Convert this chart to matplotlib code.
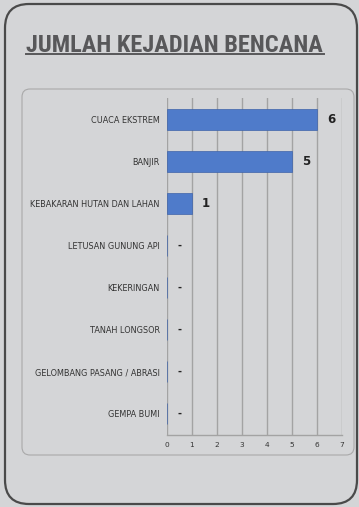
import matplotlib
matplotlib.use('Agg')
import matplotlib.pyplot as plt
from matplotlib.patches import FancyBboxPatch

# data
categories = ['CUACA EKSTREM', 'BANJIR', 'KEBAKARAN HUTAN DAN LAHAN',
              'LETUSAN GUNUNG API', 'KEKERINGAN', 'TANAH LONGSOR',
              'GELOMBANG PASANG / ABRASI', 'GEMPA BUMI']
values = [6, 5, 1, 0, 0, 0, 0, 0]
x_ticks = [0, 1, 2, 3, 4, 5, 6, 7]
title = 'JUMLAH KEJADIAN BENCANA'

W, H = 359, 507
BG = '#d4d5d7'

fig = plt.figure(figsize=(W / 100, H / 100), dpi=100)
fig.patch.set_facecolor(BG)


def px_box(x0, y0, x1, y1, rad, ec, lw):
    # pixel coords (top-left origin) -> figure fraction
    box = FancyBboxPatch((x0 / W, 1 - y1 / H), (x1 - x0) / W, (y1 - y0) / H,
                         boxstyle=f'round,pad=0,rounding_size={rad / W}',
                         transform=fig.transFigure, facecolor='none',
                         edgecolor=ec, linewidth=lw, mutation_aspect=W / H)
    fig.patches.append(box)


# outer and inner frames
px_box(5, 4, 357, 504, 24, '#4a4a4a', 1.6)
px_box(22, 89, 354, 455, 8, '#a9a9a9', 0.8)

# title with underline, shrunk to fit the underline width
t = fig.text(26 / W, 1 - 52 / H, title, fontsize=17, fontweight='bold',
             color='#58585a', ha='left', va='baseline',
             family=['Roboto Condensed', 'DejaVu Sans Condensed',
                     'Liberation Sans Narrow', 'Roboto', 'DejaVu Sans'])
r = fig.canvas.get_renderer()
wpx = t.get_window_extent(r).width
t.set_fontsize(17 * 298 / wpx)
fig.add_artist(plt.Line2D([26 / W, 324 / W], [1 - 54 / H, 1 - 54 / H],
                          color='#58585a', lw=1.4, transform=fig.transFigure))

# chart axes
ax = fig.add_axes([166.5 / W, (H - 435) / H, (342 - 166.5) / W, (435 - 98) / H])
ax.set_facecolor('none')
ypos = list(range(len(categories)))
ax.barh(ypos, values, height=0.5, color='#4f7bca', edgecolor='#3f63a8',
        linewidth=0.5, zorder=3)
for y, v in zip(ypos, values):
    if v > 0:
        ax.text(v + 0.4, y, str(v), va='center', ha='left', fontsize=8.5,
                fontweight='bold', color='#222222')
    else:
        ax.text(0.5, y, '-', va='center', ha='center', fontsize=7,
                fontweight='bold', color='#222222')

ax.set_xlim(0, 7)
ax.set_ylim(len(categories) - 0.5, -0.5)
ax.set_xticks(x_ticks)
ax.set_yticks(ypos)
ax.set_yticklabels(categories)
ax.tick_params(axis='both', length=0, labelcolor='#333333')
ax.tick_params(axis='y', pad=5, labelsize=5.9)
ax.tick_params(axis='x', pad=5, labelsize=5.3)
for xt in x_ticks:
    ax.axvline(xt, color='#a3a3a3', lw=1.0, zorder=1)
for s in ['top', 'right', 'left']:
    ax.spines[s].set_visible(False)
ax.spines['bottom'].set_color('#a3a3a3')
ax.spines['bottom'].set_linewidth(1.0)

fig.savefig('out.png', dpi=100, facecolor=BG)
